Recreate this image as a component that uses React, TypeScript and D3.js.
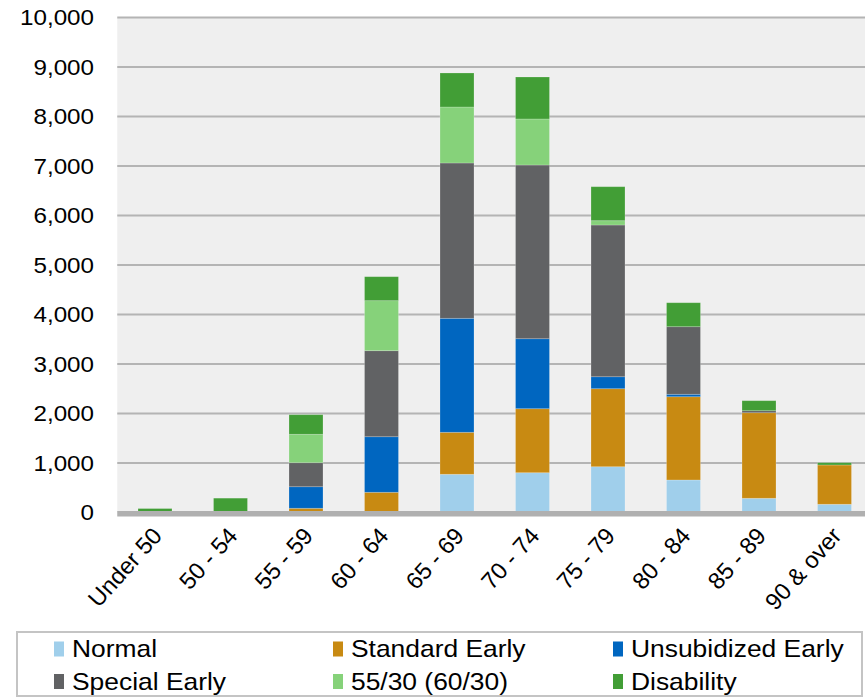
import React from "react";
import * as d3 from "d3";

const categories = ["Under 50", "50 - 54", "55 - 59", "60 - 64", "65 - 69", "70 - 74", "75 - 79", "80 - 84", "85 - 89", "90 & over"];
const normal = [0, 0, 10, 0, 772, 804, 925, 657, 287, 166];
const standardEarly = [0, 0, 75, 408, 848, 1293, 1576, 1682, 1729, 794];
const unsubidizedEarly = [0, 0, 436, 1123, 2303, 1414, 242, 49, 0, 0];
const specialEarly = [0, 0, 485, 1738, 3138, 3509, 3065, 1366, 41, 0];
const rule5530 = [0, 0, 574, 1010, 1131, 930, 87, 0, 0, 0];
const disability = [80, 290, 396, 485, 687, 848, 687, 484, 202, 46];
const yTicks = [0, 1000, 2000, 3000, 4000, 5000, 6000, 7000, 8000, 9000, 10000];

const seriesNames = ["Normal", "Standard Early", "Unsubidized Early", "Special Early", "55/30 (60/30)", "Disability"];
const seriesValues = [normal, standardEarly, unsubidizedEarly, specialEarly, rule5530, disability];
const colors = ["#a0cfeb", "#c88a12", "#0066c0", "#616264", "#86d27a", "#429e36"];

const W = 865;
const H = 697;
const plotLeft = 117.25;
const plotRight = 872.25;
const y0 = 512.5;
const yTop = 17.5;
const font = "'Liberation Sans', Arial, sans-serif";

export default function App() {
  const x = d3.scaleBand<string>().domain(categories).range([plotLeft, plotRight]).paddingInner(0.55).paddingOuter(0.275);
  const y = d3.scaleLinear().domain([0, 10000]).range([y0, yTop]);
  const rows = categories.map((c, i) => {
    const r: any = { cat: c };
    seriesNames.forEach((s, j) => (r[s] = seriesValues[j][i]));
    return r;
  });
  const stacked = d3.stack<any>().keys(seriesNames)(rows);
  const fmt = d3.format(",");

  const legendCols = [54, 333, 613];
  const legendRows = [649, 681.5];

  return (
    <svg width={W} height={H} style={{ position: "absolute", left: 0, top: 0, background: "#fff" }} fontFamily={font}>
      <rect x={plotLeft} y={yTop} width={W - plotLeft} height={y0 - yTop} fill="#efefef" />
      {yTicks.map((t) =>
        t === 0 ? null : (
          <line key={t} x1={plotLeft} x2={W} y1={y(t)} y2={y(t)} stroke="#b4b4b4" strokeWidth={1.8} />
        )
      )}
      {stacked.map((layer, j) => (
        <g key={seriesNames[j]} fill={colors[j]}>
          {layer.map((d, i) => {
            const h = y(d[0]) - y(d[1]);
            if (h <= 0) return null;
            return (
              <rect
                key={i}
                x={x(categories[i])}
                y={y(d[1])}
                width={x.bandwidth()}
                height={h}
                stroke="rgba(255,255,255,0.25)"
                strokeWidth={0.8}
              />
            );
          })}
        </g>
      ))}
      <rect x={plotLeft} y={y0 - 1.5} width={W - plotLeft} height={5.5} fill="#b0b0b0" />
      {yTicks.map((t) => (
        <text
          key={t}
          transform={`translate(94,${y(t)}) scale(1.1,1)`}
          textAnchor="end"
          dy="0.36em"
          fontSize={22}
          fill="#000"
        >
          {fmt(t)}
        </text>
      ))}
      {categories.map((c) => {
        const cx = (x(c) as number) + x.bandwidth() / 2;
        return (
          <text
            key={c}
            transform={`translate(${cx + 2},${531}) rotate(-48)`}
            textAnchor="end"
            dy="0.36em"
            fontSize={23.5}
            fill="#000"
          >
            {c}
          </text>
        );
      })}
      <rect x={17} y={632} width={845} height={64} fill="#fff" stroke="#c4c4c4" strokeWidth={2} />
      {seriesNames.map((s, j) => {
        const col = j % 3;
        const row = Math.floor(j / 3);
        const lx = legendCols[col];
        const ly = legendRows[row];
        return (
          <g key={s}>
            <rect x={lx} y={ly - 7.5} width={10} height={15} fill={colors[j]} />
            <text transform={`translate(${lx + 18},${ly + 8}) scale(1.1,1)`} fontSize={24} fill="#000">
              {s}
            </text>
          </g>
        );
      })}
    </svg>
  );
}
